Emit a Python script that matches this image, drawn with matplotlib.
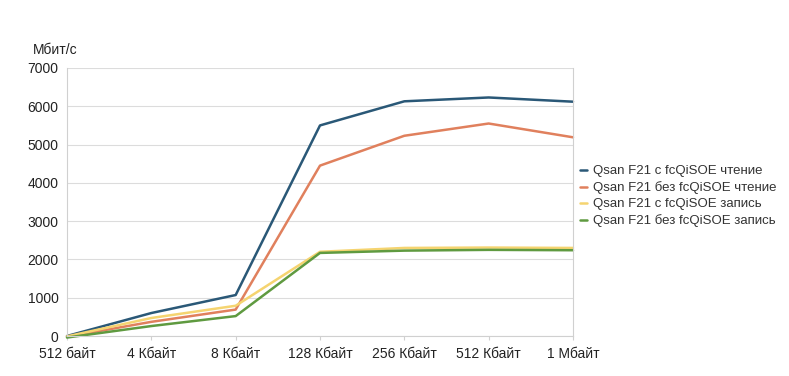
import matplotlib
matplotlib.use("Agg")
import matplotlib.pyplot as plt

categories = ["512 байт", "4 Кбайт", "8 Кбайт", "128 Кбайт", "256 Кбайт", "512 Кбайт", "1 Мбайт"]
read_with = [0, 600, 1070, 5500, 6130, 6230, 6120]
read_without = [-20, 370, 690, 4450, 5230, 5550, 5190]
write_with = [-10, 470, 790, 2200, 2300, 2310, 2300]
write_without = [-40, 260, 520, 2170, 2230, 2250, 2240]

series_names = [
    "Qsan F21 с fcQiSOE чтение",
    "Qsan F21 без fcQiSOE чтение",
    "Qsan F21 с fcQiSOE запись",
    "Qsan F21 без fcQiSOE запись",
]
colors = ["#2a5877", "#e0805d", "#f5d470", "#5f9a40"]

plt.rcParams['font.family'] = ['Liberation Sans', 'DejaVu Sans']

fig = plt.figure(figsize=(7.89, 3.76), dpi=100)
ax = fig.add_axes([67/789, 1-336/376, (573-67)/789, (336-68)/376])

x = list(range(len(categories)))
for vals, name, c in zip([read_with, read_without, write_with, write_without], series_names, colors):
    ax.plot(x, vals, color=c, lw=1.8, label=name, solid_capstyle='round', clip_on=False)

ax.set_xlim(0, len(categories) - 1)
ax.set_ylim(0, 7000)
ax.set_yticks(range(0, 7001, 1000))
ax.set_xticks(x)
ax.set_xticklabels(categories)
ax.grid(axis='y', color='#dcdcdc', lw=0.8)
ax.set_axisbelow(True)
ax.spines['top'].set_visible(False)
for s in ['left', 'right', 'bottom']:
    ax.spines[s].set_color('#d0d0d0')
    ax.spines[s].set_linewidth(0.8)
ax.tick_params(axis='y', length=0, pad=6, labelsize=10, labelcolor='#222222')
ax.tick_params(axis='x', length=3, color='#d0d0d0', pad=5, labelsize=10, labelcolor='#222222')

fig.text(33/789, 1-50/376, "Мбит/с", fontsize=10, color='#222222', va='center', ha='left')

leg = ax.legend(loc='upper left', bbox_to_anchor=(580/789, 1-165/376), bbox_transform=fig.transFigure,
                frameon=False, fontsize=9.5, handlelength=0.5, handletextpad=0.45,
                labelspacing=0.3, borderaxespad=0, borderpad=0)
for t in leg.get_texts():
    t.set_color('#333333')

fig.savefig("out.png", dpi=100)
